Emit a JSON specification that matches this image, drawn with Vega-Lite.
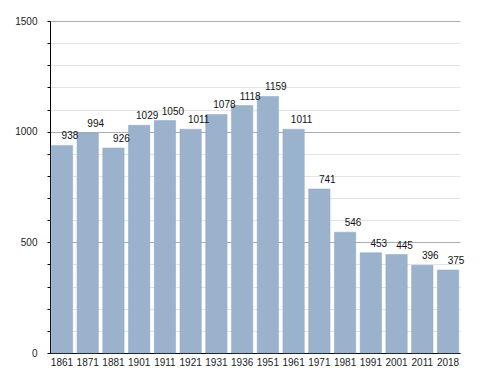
{
  "$schema": "https://vega.github.io/schema/vega-lite/v6.json",
  "width": 410,
  "height": 332,
  "autosize": {"type": "none"},
  "padding": {"left": 50, "top": 21, "right": 28, "bottom": 20},
  "background": "white",
  "config": {
    "view": {"stroke": null},
    "font": "Liberation Sans",
    "axis": {"labelFont": "Liberation Sans", "labelFontSize": 10, "labelColor": "#222"}
  },
  "data": {
    "values": [
      {"year": "1861", "pop": 938},
      {"year": "1871", "pop": 994},
      {"year": "1881", "pop": 926},
      {"year": "1901", "pop": 1029},
      {"year": "1911", "pop": 1050},
      {"year": "1921", "pop": 1011},
      {"year": "1931", "pop": 1078},
      {"year": "1936", "pop": 1118},
      {"year": "1951", "pop": 1159},
      {"year": "1961", "pop": 1011},
      {"year": "1971", "pop": 741},
      {"year": "1981", "pop": 546},
      {"year": "1991", "pop": 453},
      {"year": "2001", "pop": 445},
      {"year": "2011", "pop": 396},
      {"year": "2018", "pop": 375}
    ]
  },
  "encoding": {
    "x": {
      "field": "year",
      "type": "nominal",
      "sort": null,
      "scale": {"paddingInner": 0.17, "paddingOuter": 0.05},
      "axis": {
        "title": null,
        "labelAngle": 0,
        "ticks": false,
        "domainColor": "#000",
        "domainWidth": 1,
        "labelPadding": 4,
        "grid": false
      }
    },
    "y": {
      "field": "pop",
      "type": "quantitative",
      "scale": {"domain": [0, 1500], "nice": false},
      "axis": {
        "title": null,
        "values": [0,100,200,300,400,500,600,700,800,900,1000,1100,1200,1300,1400,1500],
        "labelExpr": "datum.value % 500 === 0 ? datum.value : ''",
        "domainColor": "#000",
        "tickColor": "#000",
        "tickSize": 3,
        "labelPadding": 10,
        "grid": true,
        "gridColor": {"condition": {"test": "datum.value % 500 === 0", "value": "#adadad"}, "value": "#e3e3e3"},
        "gridWidth": 1
      }
    }
  },
  "layer": [
    {
      "mark": {"type": "bar", "color": "#9bb2cd", "stroke": "#8fa7c3", "strokeWidth": 0.5}
    },
    {
      "mark": {"type": "text", "baseline": "bottom", "dx": 8, "dy": -4, "fontSize": 10, "color": "#111", "font": "Liberation Sans"},
      "encoding": {"text": {"field": "pop", "type": "quantitative"}}
    }
  ]
}
